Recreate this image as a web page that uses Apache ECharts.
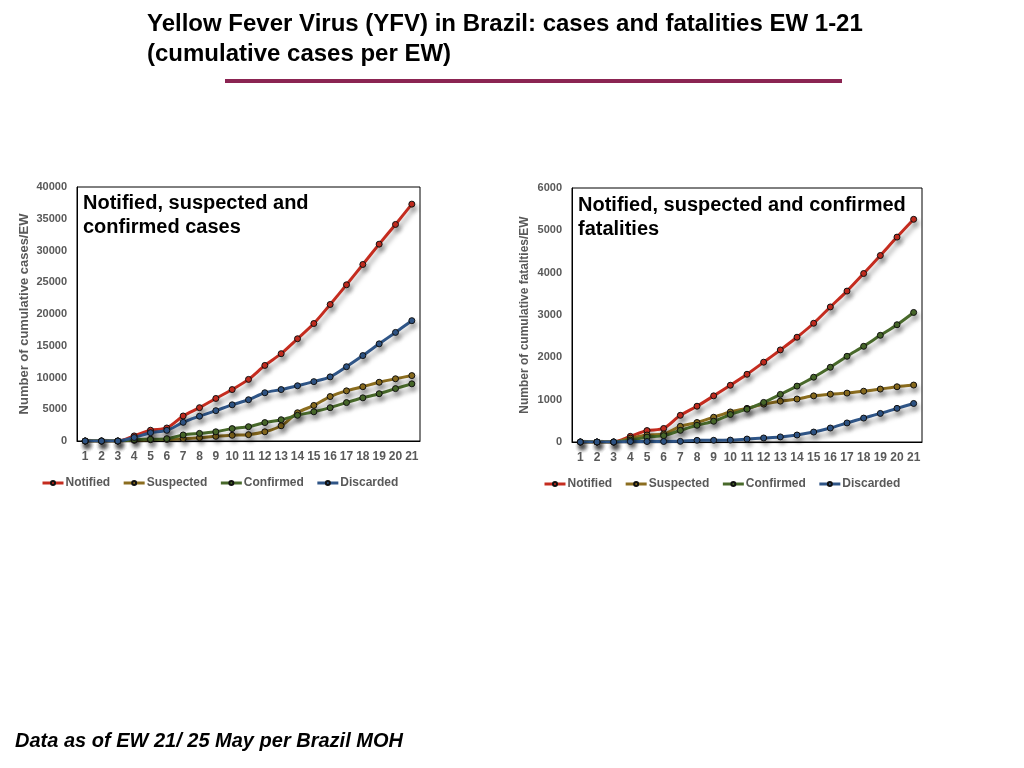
<!DOCTYPE html>
<html>
<head>
<meta charset="utf-8">
<title>Yellow Fever Virus in Brazil</title>
<script src="https://cdn.jsdelivr.net/npm/echarts@6/dist/echarts.min.js"></script>
<style>
  html, body { margin: 0; padding: 0; background: #fff; }
  #main { width: 1024px; height: 768px; }
</style>
</head>
<body>
<div id="main"></div>
<script>
// epidemiological weeks
var weeks = ['1', '2', '3', '4', '5', '6', '7', '8', '9', '10', '11', '12', '13', '14', '15', '16', '17', '18', '19', '20', '21'];
var seriesNames = ['Notified', 'Suspected', 'Confirmed', 'Discarded'];

// cumulative cases per EW
var casesNotified = [0, 0, 0, 800, 1700, 2050, 3940, 5250, 6700, 8100, 9700, 11900, 13750, 16100, 18500, 21500, 24600, 27800, 31000, 34100, 37300];
var casesSuspected = [0, 0, 0, 100, 200, 250, 370, 525, 735, 900, 1000, 1450, 2400, 4450, 5600, 7000, 7900, 8550, 9250, 9800, 10300];
var casesConfirmed = [0, 0, 0, 200, 280, 370, 950, 1200, 1450, 1950, 2250, 2900, 3350, 4050, 4600, 5250, 6050, 6800, 7450, 8250, 9000];
var casesDiscarded = [0, 0, 0, 550, 1310, 1680, 2940, 3900, 4780, 5700, 6500, 7600, 8100, 8700, 9350, 10100, 11700, 13450, 15300, 17100, 18950];

// cumulative fatalities per EW
var fatNotified = [0, 0, 0, 134, 270, 320, 630, 845, 1090, 1340, 1600, 1885, 2175, 2475, 2805, 3190, 3565, 3980, 4405, 4840, 5260];
var fatSuspected = [0, 0, 0, 90, 165, 190, 370, 460, 585, 710, 795, 895, 965, 1015, 1090, 1130, 1155, 1200, 1250, 1305, 1345];
var fatConfirmed = [0, 0, 0, 45, 115, 150, 275, 395, 490, 650, 775, 935, 1125, 1320, 1530, 1765, 2025, 2260, 2520, 2770, 3060];
var fatDiscarded = [0, 0, 0, 10, 12, 12, 15, 40, 40, 45, 70, 95, 120, 165, 235, 330, 450, 565, 675, 795, 910];

var colors = ['#c52c1f', '#8b6d1f', '#48692a', '#2f5587'];
var grey = '#595959';

function makeLine(name, data, color, idx) {
    return {
        name: name,
        type: 'line',
        xAxisIndex: idx,
        yAxisIndex: idx,
        data: data,
        smooth: 0.3,
        symbol: 'circle',
        symbolSize: 6,
        color: color,
        lineStyle: {
            width: 3,
            color: color,
            shadowColor: 'rgba(0,0,0,0.35)',
            shadowBlur: 5,
            shadowOffsetX: 2,
            shadowOffsetY: 5
        },
        itemStyle: {
            color: color,
            borderColor: '#111',
            borderWidth: 1,
            shadowColor: 'rgba(0,0,0,0.3)',
            shadowBlur: 4,
            shadowOffsetX: 2,
            shadowOffsetY: 4
        }
    };
}

function makeXAxis(idx) {
    return {
        type: 'category',
        gridIndex: idx,
        data: weeks,
        boundaryGap: true,
        axisLine: { lineStyle: { color: '#000', width: 1 } },
        axisTick: { show: false },
        axisLabel: { color: grey, fontSize: 12, fontWeight: 'bold', margin: 10, interval: 0 },
        splitLine: { show: false }
    };
}

function makeYAxis(idx, max, interval, name, gap, nameSize) {
    return {
        type: 'value',
        gridIndex: idx,
        min: 0,
        max: max,
        interval: interval,
        name: name,
        nameLocation: 'middle',
        nameGap: gap,
        nameTextStyle: { color: grey, fontSize: nameSize, fontWeight: 'bold' },
        axisLine: { show: true, lineStyle: { color: '#000', width: 1 } },
        axisTick: { show: false },
        axisLabel: {
            color: grey, fontSize: 11, fontWeight: 'bold', margin: 10,
            formatter: function(v) { return String(v); }
        },
        splitLine: { show: false }
    };
}

function makeLegend(left, top) {
    return {
        data: seriesNames,
        left: left,
        top: top,
        itemWidth: 21,
        itemHeight: 5,
        itemGap: 12,
        lineStyle: { width: 3, shadowBlur: 0, shadowOffsetX: 0, shadowOffsetY: 0 },
        itemStyle: { shadowBlur: 0, shadowOffsetX: 0, shadowOffsetY: 0 },
        textStyle: { color: grey, fontSize: 12, fontWeight: 'bold', padding: [0, 0, 0, -3] }
    };
}

var chart = echarts.init(document.getElementById('main'));

var option = {
    backgroundColor: '#fff',
    animation: false,
    textStyle: { fontFamily: 'Liberation Sans, Arial, sans-serif' },
    title: [{
        text: 'Yellow Fever Virus (YFV) in Brazil: cases and fatalities EW 1-21\n(cumulative cases per EW)',
        left: 147,
        top: 9,
        padding: 0,
        textStyle: { fontSize: 24, fontWeight: 'bold', color: '#000', lineHeight: 30 }
    }, {
        text: 'Notified, suspected and\nconfirmed cases',
        left: 83,
        top: 191,
        padding: 0,
        textStyle: { fontSize: 20, fontWeight: 'bold', color: '#000', lineHeight: 24 }
    }, {
        text: 'Notified, suspected and confirmed\nfatalities',
        left: 578,
        top: 193,
        padding: 0,
        textStyle: { fontSize: 20, fontWeight: 'bold', color: '#000', lineHeight: 24 }
    }, {
        text: 'Data as of EW 21/ 25 May per Brazil MOH',
        left: 15,
        top: 731,
        padding: 0,
        textStyle: { fontSize: 20, fontWeight: 'bold', fontStyle: 'italic', color: '#000' }
    }],
    graphic: [{
        type: 'line',
        shape: { x1: 225, y1: 81, x2: 842, y2: 81 },
        style: { stroke: '#8b2452', lineWidth: 4 }
    }],
    legend: [makeLegend(36, 472), makeLegend(538, 473)],
    grid: [{
        left: 77, top: 187, width: 343, height: 254,
        show: true, borderColor: '#000', borderWidth: 1, backgroundColor: 'transparent'
    }, {
        left: 572, top: 188, width: 350, height: 254,
        show: true, borderColor: '#000', borderWidth: 1, backgroundColor: 'transparent'
    }],
    xAxis: [makeXAxis(0), makeXAxis(1)],
    yAxis: [
        makeYAxis(0, 40000, 5000, 'Number of cumulative cases/EW', 46, 13),
        makeYAxis(1, 6000, 1000, 'Number of cumulative fatalties/EW', 41, 12)
    ],
    series: [
        makeLine('Notified', casesNotified, colors[0], 0),
        makeLine('Suspected', casesSuspected, colors[1], 0),
        makeLine('Confirmed', casesConfirmed, colors[2], 0),
        makeLine('Discarded', casesDiscarded, colors[3], 0),
        makeLine('Notified', fatNotified, colors[0], 1),
        makeLine('Suspected', fatSuspected, colors[1], 1),
        makeLine('Confirmed', fatConfirmed, colors[2], 1),
        makeLine('Discarded', fatDiscarded, colors[3], 1)
    ]
};

chart.setOption(option);
</script>
</body>
</html>
